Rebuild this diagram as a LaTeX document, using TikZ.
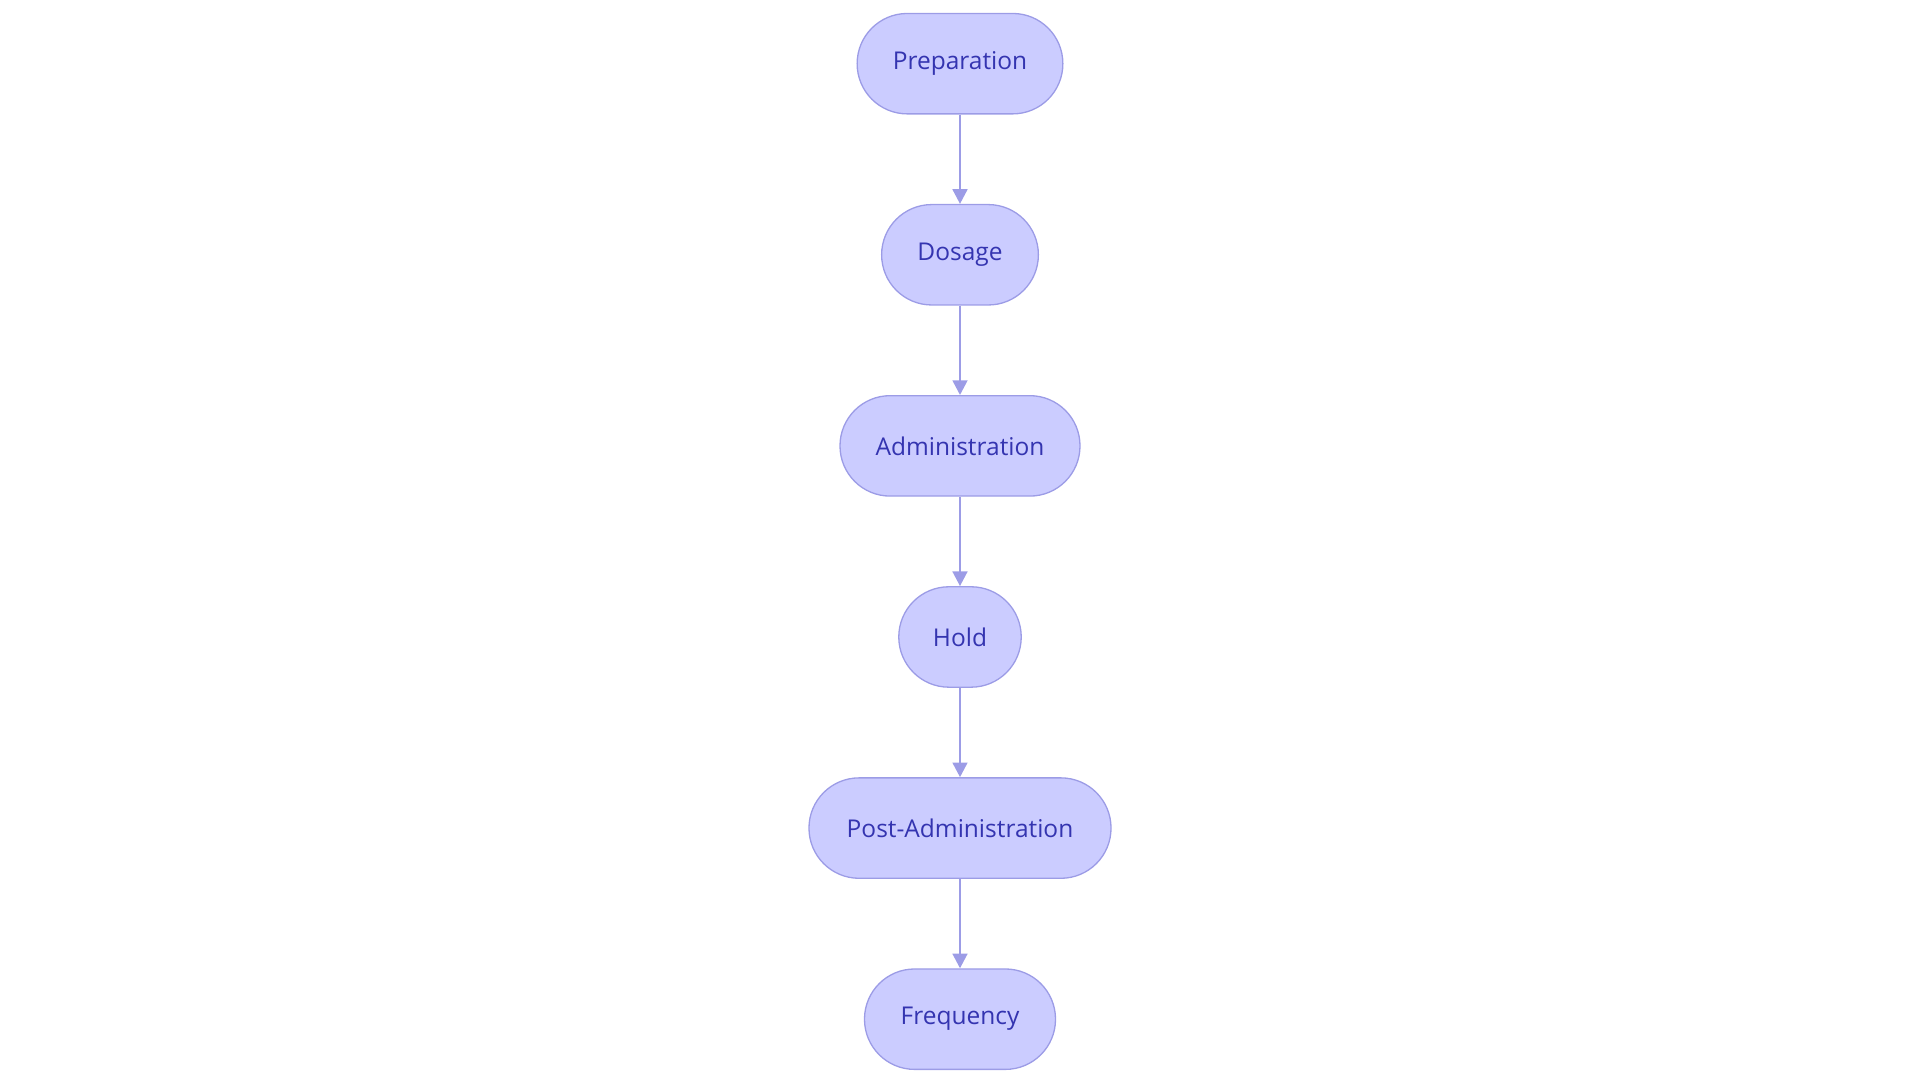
\documentclass[tikz,border=0pt]{standalone}
\usepackage{fontspec}
\setmainfont{Open Sans}
\usetikzlibrary{positioning,arrows.meta}
\definecolor{stepfill}{HTML}{CBCCFF}
\definecolor{stepline}{HTML}{9C9CE6}
\definecolor{steptext}{HTML}{3434B0}
\tikzset{
  stage/.style={draw=stepline, fill=stepfill, text=steptext, line width=0.8pt,
    rounded corners=30.7pt, minimum height=61.5pt, font=\fontsize{15}{18}\selectfont},
  flow/.style={draw=stepline, line width=1.6pt, -{Triangle[length=9pt,width=9pt]}}
}
\begin{document}
\begin{tikzpicture}[node distance=54.75pt]
\useasboundingbox (0,0) rectangle (1176pt,-663pt);

\node[stage, minimum width=126pt] (prep) at (588pt,-39pt) {Preparation};
\node[stage, minimum width=96pt, below=of prep] (dose) {Dosage};
\node[stage, minimum width=147pt, below=of dose] (admin) {Administration};
\node[stage, minimum width=75pt, below=of admin] (hold) {Hold};
\node[stage, minimum width=185pt, below=of hold] (post) {Post-Administration};
\node[stage, minimum width=117pt, below=of post] (freq) {Frequency};

\draw[flow] (prep) -- (dose);
\draw[flow] (dose) -- (admin);
\draw[flow] (admin) -- (hold);
\draw[flow] (hold) -- (post);
\draw[flow] (post) -- (freq);
\end{tikzpicture}
\end{document}
